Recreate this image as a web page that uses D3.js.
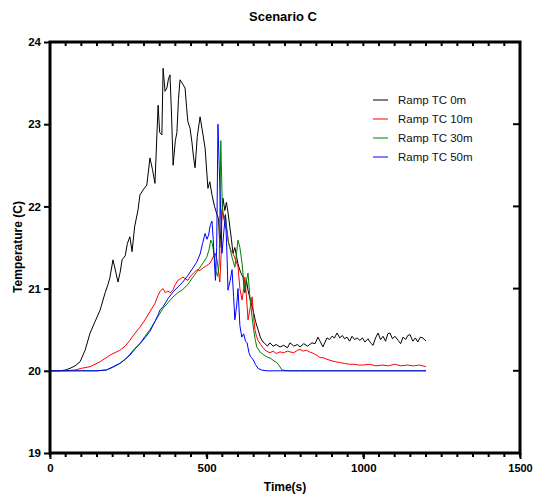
<!DOCTYPE html>
<html>
<head>
<meta charset="utf-8">
<script src="https://cdn.jsdelivr.net/npm/d3@7"></script>
<style>
  body { margin: 0; background: #fff; }
  svg { font-family: "Liberation Sans", Arial, sans-serif; }
</style>
</head>
<body>
<svg id="chart" width="533" height="495"></svg>
<script>
// series names + colours (legend order)
const seriesNames = ['Ramp TC 0m', 'Ramp TC 10m', 'Ramp TC 30m', 'Ramp TC 50m'];
const seriesColors = ['#000000', '#ff0000', '#008000', '#0000ff'];

// [time (s), temperature (C)]
const tc0m = [[0,20.0],[30,20.0],[50,20.01],[64,20.03],[80,20.06],[96,20.11],[112,20.25],[128,20.46],[144,20.6],[160,20.74],[176,20.95],[185,21.05],[191,21.13],[201,21.35],[210,21.2],[217,21.08],[224,21.2],[230,21.35],[240,21.4],[247,21.55],[255,21.63],[262,21.45],[270,21.75],[281,21.96],[287,22.14],[297,22.2],[309,22.26],[319,22.59],[327,22.45],[335,22.28],[345,23.23],[350,22.9],[357,22.87],[361,23.68],[367,23.4],[373,23.44],[378,23.55],[383,23.6],[388,23.1],[393,22.5],[400,22.8],[405,22.9],[410,23.3],[415,23.54],[425,23.48],[431,23.44],[436,23.2],[440,23.03],[447,22.95],[453,22.78],[458,22.6],[463,22.47],[470,22.85],[479,23.09],[485,22.95],[495,22.71],[504,22.22],[510,22.3],[517,22.14],[525,22.0],[533,21.9],[538,21.85],[542,21.5],[547,21.8],[552,22.1],[558,21.95],[563,22.05],[568,21.93],[574,21.75],[579,21.6],[584,21.43],[590,21.5],[600,21.3],[608,21.2],[616,21.14],[622,20.95],[627,21.1],[632,20.98],[640,20.85],[648,20.74],[656,20.6],[664,20.5],[672,20.4],[680,20.35],[686,20.33],[694,20.3],[702,20.34],[712,20.3],[722,20.32],[734,20.29],[746,20.31],[758,20.28],[766,20.34],[778,20.3],[790,20.32],[798,20.29],[810,20.33],[822,20.3],[836,20.34],[846,20.33],[855,20.41],[862,20.36],[871,20.29],[878,20.35],[884,20.4],[892,20.38],[900,20.42],[908,20.4],[916,20.46],[925,20.4],[933,20.43],[940,20.39],[948,20.41],[956,20.36],[964,20.42],[972,20.38],[980,20.4],[989,20.37],[997,20.4],[1005,20.35],[1015,20.39],[1023,20.34],[1031,20.31],[1039,20.4],[1047,20.46],[1055,20.38],[1063,20.42],[1071,20.36],[1078,20.45],[1085,20.46],[1093,20.39],[1101,20.42],[1111,20.37],[1119,20.33],[1127,20.41],[1135,20.38],[1142,20.43],[1149,20.44],[1158,20.36],[1166,20.4],[1174,20.35],[1182,20.41],[1190,20.4],[1197,20.37],[1200,20.37]];

const tc10m = [[0,20.0],[50,20.0],[80,20.01],[100,20.03],[128,20.05],[160,20.11],[191,20.19],[223,20.25],[240,20.3],[255,20.37],[270,20.45],[287,20.53],[303,20.62],[319,20.72],[335,20.82],[345,20.92],[352,20.97],[361,21.0],[368,20.95],[376,20.97],[385,20.95],[393,20.99],[400,21.05],[408,21.1],[416,21.12],[424,21.14],[432,21.12],[440,21.1],[448,21.15],[456,21.18],[469,21.23],[478,21.22],[488,21.25],[500,21.28],[511,21.31],[520,21.38],[527,21.43],[533,21.35],[538,21.2],[542,21.08],[546,21.4],[549,21.95],[555,21.85],[560,21.75],[565,21.71],[570,21.55],[574,21.5],[579,21.45],[584,21.43],[592,21.35],[600,21.27],[606,21.0],[613,20.86],[618,21.0],[622,21.14],[627,20.9],[632,20.62],[638,20.75],[645,20.9],[650,20.65],[654,20.5],[659,20.42],[664,20.37],[672,20.32],[680,20.28],[690,20.24],[702,20.22],[712,20.24],[722,20.21],[734,20.23],[746,20.22],[758,20.24],[766,20.23],[778,20.22],[790,20.25],[798,20.26],[808,20.24],[818,20.25],[828,20.23],[836,20.22],[846,20.2],[855,20.18],[862,20.16],[871,20.16],[884,20.14],[900,20.12],[912,20.11],[925,20.1],[940,20.09],[955,20.08],[970,20.08],[985,20.07],[1000,20.07],[1020,20.08],[1040,20.06],[1060,20.07],[1080,20.06],[1100,20.08],[1120,20.06],[1140,20.07],[1160,20.06],[1180,20.07],[1200,20.05]];

const tc30m = [[0,20.0],[100,20.0],[150,20.0],[180,20.01],[200,20.04],[223,20.09],[240,20.14],[255,20.2],[270,20.27],[287,20.33],[303,20.42],[319,20.5],[335,20.6],[351,20.7],[361,20.76],[377,20.83],[393,20.9],[408,20.95],[424,20.99],[440,21.05],[456,21.14],[468,21.2],[479,21.26],[490,21.32],[500,21.38],[508,21.48],[513,21.59],[518,21.55],[524,21.4],[530,21.2],[535,21.15],[540,21.3],[545,22.8],[550,22.0],[555,21.85],[560,21.9],[568,21.59],[574,21.5],[581,21.38],[590,21.26],[596,21.45],[600,21.59],[606,21.5],[613,21.31],[618,21.1],[622,20.98],[627,21.1],[632,21.19],[638,20.9],[645,20.65],[650,20.5],[655,20.38],[660,20.29],[670,20.23],[680,20.2],[692,20.17],[705,20.15],[715,20.12],[724,20.1],[732,20.06],[740,20.01],[760,20.0],[800,20.0],[900,20.0],[1000,20.0],[1100,20.0],[1200,20.0]];

const tc50m = [[0,20.0],[100,20.0],[150,20.0],[180,20.01],[191,20.03],[207,20.06],[223,20.09],[240,20.14],[255,20.19],[270,20.26],[287,20.33],[303,20.4],[319,20.48],[335,20.6],[345,20.68],[351,20.74],[361,20.78],[377,20.88],[393,20.96],[408,21.02],[424,21.08],[440,21.16],[456,21.25],[468,21.32],[479,21.42],[487,21.55],[495,21.67],[501,21.6],[506,21.65],[512,21.78],[517,21.82],[521,21.6],[525,21.3],[528,21.1],[532,21.5],[536,23.0],[540,22.5],[545,21.9],[549,21.43],[555,21.7],[560,21.9],[565,21.4],[568,20.98],[575,21.1],[581,21.23],[586,20.9],[590,20.62],[596,20.8],[600,21.0],[606,20.55],[612,20.41],[618,20.45],[624,20.36],[629,20.34],[635,20.22],[640,20.17],[648,20.14],[655,20.08],[664,20.03],[675,20.01],[690,20.0],[800,20.0],[1200,20.0]];

const seriesData = [tc0m, tc10m, tc30m, tc50m];

const xTicks = [0, 500, 1000, 1500];
const yTicks = [19, 20, 21, 22, 23, 24];

// layout
const margin = { top: 42, right: 13, bottom: 42, left: 50 };
const width = 533, height = 495;

const svg = d3.select('#chart');

const x = d3.scaleLinear().domain([0, 1500]).range([margin.left, width - margin.right]);
const y = d3.scaleLinear().domain([19, 24]).range([height - margin.bottom, margin.top]);

// Lines
const line = d3.line().x(d => x(d[0])).y(d => y(d[1]));
svg.append('g')
  .selectAll('path')
  .data(seriesData)
  .enter()
  .append('path')
    .attr('d', line)
    .attr('fill', 'none')
    .attr('stroke', (d, i) => seriesColors[i])
    .attr('stroke-width', 1)
    .attr('stroke-linejoin', 'round');

// minor x ticks every 50
const minorX = d3.range(0, 1501, 50);

// Bottom axis
const xAxis = d3.axisBottom(x).tickValues(xTicks).tickSize(6).tickSizeOuter(0).tickPadding(5).tickFormat(d3.format('d'));
const gx = svg.append('g')
  .attr('transform', `translate(0, ${y(19)})`)
  .call(xAxis);
gx.selectAll('g.minor')
  .data(minorX)
  .enter()
  .append('line')
    .attr('x1', d => x(d)).attr('x2', d => x(d))
    .attr('y1', 0).attr('y2', 4)
    .attr('stroke', '#000').attr('stroke-width', 2);

// Top frame ticks (inward)
svg.append('g')
  .selectAll('line')
  .data(minorX)
  .enter()
  .append('line')
    .attr('x1', d => x(d)).attr('x2', d => x(d))
    .attr('y1', y(24)).attr('y2', y(24) + 4)
    .attr('stroke', '#000').attr('stroke-width', 2);

// Left axis
const yAxis = d3.axisLeft(y).tickValues(yTicks).tickSize(6).tickSizeOuter(0).tickPadding(3).tickFormat(d3.format('d'));
const gy = svg.append('g')
  .attr('transform', `translate(${x(0)}, 0)`)
  .call(yAxis);

// Right frame ticks (inward)
svg.append('g')
  .selectAll('line')
  .data(yTicks)
  .enter()
  .append('line')
    .attr('x1', x(1500) - 7).attr('x2', x(1500))
    .attr('y1', d => y(d)).attr('y2', d => y(d))
    .attr('stroke', '#000').attr('stroke-width', 2);

[gx, gy].forEach(g => {
  g.selectAll('.domain').remove();
  g.selectAll('.tick line').attr('stroke', '#000').attr('stroke-width', 2);
  g.selectAll('.tick text')
    .attr('fill', '#000')
    .attr('font-size', 11.5)
    .attr('font-weight', 'bold')
    .attr('font-family', '"Liberation Sans", Arial, sans-serif');
});
// last x label sits close to the edge
gx.selectAll('.tick text').filter(d => d === 1500).attr('font-size', 11);

// Frame
svg.append('rect')
  .attr('x', x(0)).attr('y', y(24))
  .attr('width', x(1500) - x(0)).attr('height', y(19) - y(24))
  .attr('fill', 'none').attr('stroke', '#000').attr('stroke-width', 3);

// Title + axis labels
svg.append('text')
  .attr('x', 283).attr('y', 21)
  .attr('text-anchor', 'middle')
  .attr('font-size', 13).attr('font-weight', 'bold')
  .text('Scenario C');

svg.append('text')
  .attr('x', 285).attr('y', 491)
  .attr('text-anchor', 'middle')
  .attr('font-size', 12).attr('font-weight', 'bold')
  .text('Time(s)');

svg.append('text')
  .attr('transform', 'translate(22, 247) rotate(-90)')
  .attr('text-anchor', 'middle')
  .attr('font-size', 12).attr('font-weight', 'bold')
  .text('Temperature (C)');

// Legend
const legend = svg.append('g').attr('transform', 'translate(373, 100)');
const item = legend.selectAll('g')
  .data(seriesNames)
  .enter()
  .append('g')
    .attr('transform', (d, i) => `translate(0, ${i * 19})`);
item.append('line')
  .attr('x1', 0).attr('x2', 15)
  .attr('stroke', (d, i) => seriesColors[i])
  .attr('stroke-width', 1);
item.append('text')
  .attr('x', 25).attr('y', 4)
  .attr('font-size', 11.5)
  .attr('fill', '#111')
  .text(d => d);
</script>
</body>
</html>
